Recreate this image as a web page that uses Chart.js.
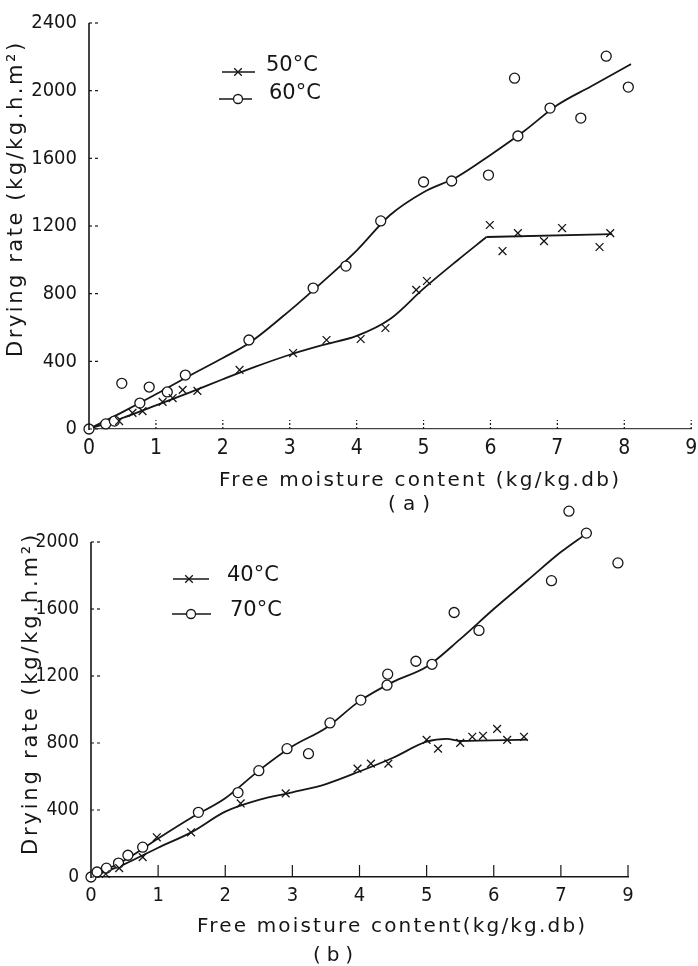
<!DOCTYPE html>
<html>
<head>
<meta charset="utf-8">
<script src="https://cdn.jsdelivr.net/npm/chart.js@4.4.1/dist/chart.umd.min.js"></script>
<style>
  html, body { margin: 0; padding: 0; background: #fff; }
  #wrap { position: relative; width: 698px; height: 966px; overflow: hidden; }
  .pane { position: absolute; left: 0; width: 698px; }
  #paneA { top: 0; height: 520px; }
  #paneB { top: 495px; height: 471px; }
</style>
</head>
<body>
<div id="wrap">
  <div class="pane" id="paneA"><canvas id="chartA"></canvas></div>
  <div class="pane" id="paneB"><canvas id="chartB"></canvas></div>
</div>
<script>
/* Drying rate vs free moisture content, panels (a) and (b) */

// ---- panel (a) ----
const xTicksA = [0, 1, 2, 3, 4, 5, 6, 7, 8, 9];
const xLabelsA = ['0', '1', '2', '3', '4', '5', '6', '7', '8', '9'];
const yTicksA = [0, 400, 800, 1200, 1600, 2000, 2400];

// 50 C measured points
const x50 = [0.45, 0.65, 0.8, 1.1, 1.25, 1.4, 1.62, 2.25, 3.05, 3.55, 4.06, 4.43, 4.89, 5.05, 5.99, 6.18, 6.41, 6.8, 7.07, 7.63, 7.79];
const y50 = [47, 95, 106, 160, 183, 231, 225, 349, 449, 526, 532, 597, 822, 875, 1206, 1052, 1158, 1111, 1188, 1076, 1158];
// 60 C measured points
const x60 = [0, 0.25, 0.38, 0.49, 0.76, 0.9, 1.17, 1.44, 2.39, 3.35, 3.84, 4.36, 5.0, 5.42, 5.97, 6.36, 6.41, 6.89, 7.35, 7.73, 8.06];
const y60 = [0, 30, 47, 270, 153, 248, 219, 319, 526, 833, 963, 1230, 1460, 1466, 1501, 2074, 1732, 1897, 1838, 2204, 2021];
// fitted curves (50 C rises, then a flat run)
const c50x = [0, 0.5, 1, 1.5, 2, 2.5, 3, 3.5, 4, 4.5, 5, 5.5, 5.94];
const c50y = [0, 65, 140, 215, 294, 370, 439, 497, 550, 650, 830, 995, 1135];
const c50flatX = [5.94, 7.82];
const c50flatY = [1135, 1152];
const c60x = [0, 0.5, 1, 1.5, 2, 2.4, 3, 3.5, 4, 4.5, 5, 5.5, 6, 6.5, 7, 7.5, 8.1];
const c60y = [0, 100, 205, 315, 420, 510, 700, 873, 1055, 1265, 1400, 1490, 1620, 1760, 1915, 2025, 2157];

// ---- panel (b) ----
const xTicksB = [0, 1, 2, 3, 4, 5, 6, 7, 8];
const xLabelsB = ['0', '1', '2', '3', '4', '5', '6', '7', '9'];   // last label printed as 9 in the original
const yTicksB = [0, 400, 800, 1200, 1600, 2000];

// 40 C measured points
const x40 = [0.22, 0.42, 0.77, 0.98, 1.49, 2.23, 2.9, 3.97, 4.17, 4.43, 5.0, 5.17, 5.5, 5.68, 5.84, 6.05, 6.2, 6.45];
const y40 = [18, 53, 119, 237, 267, 439, 499, 647, 677, 677, 819, 766, 801, 837, 843, 884, 819, 837];
// 70 C measured points
const x70 = [0, 0.09, 0.23, 0.41, 0.55, 0.77, 1.6, 2.19, 2.5, 2.92, 3.24, 3.56, 4.02, 4.41, 4.42, 4.84, 5.08, 5.41, 5.78, 6.86, 7.12, 7.38, 7.85];
const y70 = [0, 30, 53, 83, 130, 178, 386, 504, 635, 766, 736, 920, 1056, 1145, 1211, 1288, 1270, 1579, 1472, 1769, 2184, 2053, 1875];
// fitted curves
const c40x = [0, 0.5, 1, 1.5, 2, 2.5, 3, 3.5, 4, 4.5, 5, 5.3, 5.5, 6.5];
const c40y = [0, 77, 175, 268, 390, 460, 505, 555, 630, 712, 808, 825, 812, 820];
const c70x = [0, 0.5, 1, 1.5, 2, 2.5, 3, 3.5, 4, 4.5, 5, 5.5, 6, 6.5, 7, 7.38];
const c70y = [0, 100, 230, 355, 470, 635, 780, 890, 1050, 1165, 1255, 1420, 1600, 1770, 1940, 2050];

const INK = '#161616';
const TICK_FONT = '"DejaVu Sans Condensed", "Liberation Sans Narrow", "DejaVu Sans", sans-serif';
const TEXT_FONT = '"DejaVu Sans", sans-serif';

const pts = (xs, ys) => xs.map((x, i) => ({ x: x, y: ys[i] }));

function pointSet(label, xs, ys, style) {
    const circle = style === 'circle';
    return {
        label: label,
        data: pts(xs, ys),
        showLine: false,
        pointStyle: style,
        pointRadius: circle ? 5 : 5.5,
        pointBorderWidth: 1.3,
        pointBorderColor: INK,
        pointBackgroundColor: '#fff',
        clip: false,
        order: 0
    };
}

function curveSet(xs, ys) {
    return {
        data: pts(xs, ys),
        showLine: true,
        borderColor: INK,
        borderWidth: 1.8,
        pointRadius: 0,
        cubicInterpolationMode: 'monotone',
        clip: false,
        order: 1
    };
}

// y axis line, inner ticks, hand-placed legend and captions, like the printed figure
const paperPlugin = {
    id: 'paper',
    afterDraw(chart, args, opts) {
        const { ctx, chartArea } = chart;
        const xs = chart.scales.x, ys = chart.scales.y;
        const yTop = ys.getPixelForValue(ys.ticks[ys.ticks.length - 1].value);
        const yBot = ys.getPixelForValue(ys.ticks[0].value);
        ctx.save();
        ctx.strokeStyle = INK;
        ctx.lineWidth = 1.6;
        ctx.beginPath();
        ctx.moveTo(chartArea.left, yTop);
        ctx.lineTo(chartArea.left, yBot + 1);
        ctx.stroke();

        ctx.lineWidth = 1.2;
        ctx.setLineDash(opts.yTickDash);
        ys.ticks.forEach(t => {
            const py = ys.getPixelForValue(t.value);
            ctx.beginPath();
            ctx.moveTo(chartArea.left, py);
            ctx.lineTo(chartArea.left + opts.yTickLen, py);
            ctx.stroke();
        });
        ctx.setLineDash(opts.xTickDash);
        xs.ticks.forEach(t => {
            if (t.value === 0) return;
            const px = xs.getPixelForValue(t.value);
            ctx.beginPath();
            ctx.moveTo(px, yBot);
            ctx.lineTo(px, yBot - opts.xTickLen);
            ctx.stroke();
        });
        ctx.setLineDash([]);

        // legend
        opts.legend.forEach(item => {
            ctx.lineWidth = 1.6;
            ctx.strokeStyle = INK;
            ctx.beginPath();
            ctx.moveTo(item.x1, item.y);
            ctx.lineTo(item.x2, item.y);
            ctx.stroke();
            ctx.lineWidth = 1.3;
            if (item.style === 'circle') {
                ctx.fillStyle = '#fff';
                ctx.beginPath();
                ctx.arc(item.px, item.y, 4.5, 0, Math.PI * 2);
                ctx.fill();
                ctx.stroke();
            } else {
                const r = 3.8;
                ctx.beginPath();
                ctx.moveTo(item.px - r, item.y - r); ctx.lineTo(item.px + r, item.y + r);
                ctx.moveTo(item.px - r, item.y + r); ctx.lineTo(item.px + r, item.y - r);
                ctx.stroke();
            }
            ctx.fillStyle = INK;
            ctx.font = opts.legendFont;
            ctx.textBaseline = 'middle';
            ctx.textAlign = 'left';
            ctx.fillText(item.label, item.tx, item.ty);
        });

        // captions, stretched to the printed width
        opts.captions.forEach(c => {
            ctx.save();
            ctx.fillStyle = INK;
            ctx.font = c.font;
            ctx.letterSpacing = '0px';
            const w = ctx.measureText(c.text).width;
            const extra = (c.width - w) / Math.max(1, c.text.length - 1);
            ctx.letterSpacing = extra.toFixed(2) + 'px';
            ctx.textBaseline = 'middle';
            ctx.textAlign = 'left';
            ctx.translate(c.x, c.y);
            if (c.rotate) ctx.rotate(-Math.PI / 2);
            ctx.fillText(c.text, -c.width / 2, 0);
            ctx.restore();
        });
        ctx.restore();
    }
};

const noPad = s => { s.paddingTop = 0; s.paddingBottom = 0; s.paddingLeft = 0; s.paddingRight = 0; };

function makeChart(id, cfg) {
    return new Chart(document.getElementById(id).getContext('2d'), {
        type: 'scatter',
        data: { datasets: cfg.datasets },
        options: {
            responsive: true,
            maintainAspectRatio: false,
            animation: false,
            layout: { padding: cfg.padding },
            plugins: {
                legend: { display: false },
                tooltip: { enabled: false },
                paper: cfg.paper
            },
            scales: {
                x: {
                    type: 'linear',
                    min: cfg.xTicks[0],
                    max: cfg.xTicks[cfg.xTicks.length - 1],
                    afterBuildTicks: s => { s.ticks = cfg.xTicks.map(v => ({ value: v })); },
                    afterFit: s => { s.height = cfg.xHeight; noPad(s); },
                    grid: { display: true, drawOnChartArea: false, drawTicks: false },
                    border: cfg.xBorder,
                    ticks: {
                        autoSkip: false, maxRotation: 0, padding: cfg.xPad, color: INK,
                        font: { family: TICK_FONT, size: cfg.xFont },
                        callback: (v, i) => cfg.xLabels[i]
                    }
                },
                y: {
                    type: 'linear',
                    min: cfg.yTicks[0],
                    max: cfg.yMax,
                    afterBuildTicks: s => { s.ticks = cfg.yTicks.map(v => ({ value: v })); },
                    afterFit: s => { s.width = cfg.yWidth; noPad(s); },
                    grid: { display: false },
                    border: { display: false },
                    ticks: {
                        autoSkip: false, padding: 4, color: INK,
                        font: { family: TICK_FONT, size: cfg.yFont },
                        callback: v => String(v)
                    }
                }
            }
        },
        plugins: [paperPlugin]
    });
}

makeChart('chartA', {
    datasets: [
        pointSet('50°C', x50, y50, 'crossRot'),
        pointSet('60°C', x60, y60, 'circle'),
        curveSet(c50x, c50y),
        curveSet(c50flatX, c50flatY),
        curveSet(c60x, c60y)
    ],
    padding: { top: 23, right: 5, bottom: 0, left: 0 },
    xTicks: xTicksA, xLabels: xLabelsA, yTicks: yTicksA, yMax: 2400,
    xHeight: 91, yWidth: 89, xPad: 7, xFont: 21, yFont: 20,
    xBorder: { display: true, color: '#444', width: 1.3, dash: [14, 3, 2, 3] },
    paper: {
        yTickLen: 9, yTickDash: [3, 3], xTickLen: 9, xTickDash: [2, 2],
        legendFont: '21px ' + TEXT_FONT,
        legend: [
            { label: '50°C', style: 'cross', x1: 222, x2: 255, px: 238, y: 72, tx: 266, ty: 66 },
            { label: '60°C', style: 'circle', x1: 219, x2: 252, px: 238, y: 99, tx: 269, ty: 94 }
        ],
        captions: [
            { text: 'Free moisture content (kg/kg.db)', x: 419, y: 481, width: 400, font: '20px ' + TEXT_FONT },
            { text: '( a )', x: 409, y: 505, width: 42, font: '20px ' + TEXT_FONT },
            { text: 'Drying rate (kg/kg.h.m²)', x: 17, y: 200, width: 314, font: '21px ' + TEXT_FONT, rotate: true }
        ]
    }
});

makeChart('chartB', {
    datasets: [
        pointSet('40°C', x40, y40, 'crossRot'),
        pointSet('70°C', x70, y70, 'circle'),
        curveSet(c40x, c40y),
        curveSet(c70x, c70y)
    ],
    padding: { top: 4.6, right: 70, bottom: 0, left: 0 },
    xTicks: xTicksB, xLabels: xLabelsB, yTicks: yTicksB, yMax: 2240,
    xHeight: 89, yWidth: 91, xPad: 7, xFont: 20, yFont: 19,
    xBorder: { display: true, color: INK, width: 1.5 },
    paper: {
        yTickLen: 10, yTickDash: [3, 3], xTickLen: 12, xTickDash: [],
        legendFont: '21px ' + TEXT_FONT,
        legend: [
            { label: '40°C', style: 'cross', x1: 173, x2: 209, px: 189, y: 84, tx: 227, ty: 81 },
            { label: '70°C', style: 'circle', x1: 172, x2: 211, px: 191, y: 119, tx: 230, ty: 116 }
        ],
        captions: [
            { text: 'Free moisture content(kg/kg.db)', x: 391, y: 432, width: 388, font: '20px ' + TEXT_FONT },
            { text: '( b )', x: 333, y: 461, width: 40, font: '20px ' + TEXT_FONT },
            { text: 'Drying rate (kg/kg.h.m²)', x: 32, y: 200, width: 320, font: '21px ' + TEXT_FONT, rotate: true }
        ]
    }
});
</script>
</body>
</html>
